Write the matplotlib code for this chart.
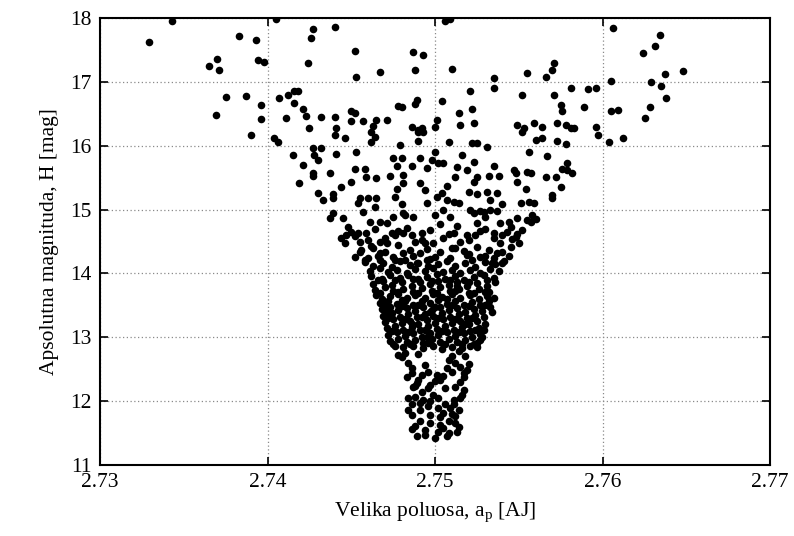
import matplotlib
matplotlib.use('Agg')
import matplotlib.pyplot as plt
import numpy as np

# ===========================
# Data: (a_p [AJ], H [mag])
# ===========================
sparse_top = [
    (2.7329, 17.63), (2.7343, 17.96), (2.7405, 17.98), (2.7427, 17.83), (2.7426, 17.69),
    (2.7440, 17.86), (2.7383, 17.71), (2.7393, 17.66), (2.7365, 17.24), (2.7370, 17.35),
    (2.7371, 17.18), (2.7394, 17.34), (2.7398, 17.31), (2.7424, 17.29), (2.7452, 17.49),
    (2.7453, 17.08), (2.7467, 17.15), (2.7487, 17.47), (2.7493, 17.42), (2.7488, 17.19),
    (2.7506, 17.96), (2.7509, 17.98), (2.7510, 17.20), (2.7375, 16.76), (2.7369, 16.48),
    (2.7387, 16.78), (2.7396, 16.63), (2.7396, 16.42), (2.7390, 16.17), (2.7407, 16.75),
    (2.7412, 16.79), (2.7416, 16.86), (2.7418, 16.86), (2.7411, 16.44), (2.7416, 16.67),
    (2.7421, 16.58), (2.7423, 16.47), (2.7425, 16.27), (2.7432, 16.45), (2.7440, 16.45),
    (2.7441, 16.27), (2.7450, 16.55), (2.7452, 16.51), (2.7450, 16.38), (2.7457, 16.38),
    (2.7465, 16.40), (2.7463, 16.31), (2.7471, 16.40), (2.7478, 16.62), (2.7480, 16.60),
    (2.7486, 16.30), (2.7490, 16.24), (2.7492, 16.27), (2.7489, 16.71), (2.7488, 16.66),
    (2.7501, 16.40), (2.7500, 16.29), (2.7504, 16.70), (2.7514, 16.51), (2.7515, 16.32),
    (2.7521, 16.86), (2.7522, 16.58), (2.7523, 16.35), (2.7535, 17.06), (2.7535, 16.90),
    (2.7549, 16.33), (2.7553, 16.28), (2.7559, 16.35), (2.7564, 16.29), (2.7555, 17.14),
    (2.7566, 17.08), (2.7552, 16.79), (2.7570, 17.19), (2.7571, 17.30), (2.7571, 16.79),
    (2.7575, 16.64), (2.7576, 16.54), (2.7573, 16.36), (2.7581, 16.91), (2.7578, 16.33),
    (2.7581, 16.28), (2.7583, 16.27), (2.7589, 16.60), (2.7591, 16.89), (2.7596, 16.91),
    (2.7596, 16.29), (2.7606, 17.84), (2.7605, 17.02), (2.7605, 16.54), (2.7609, 16.56),
    (2.7624, 17.45), (2.7631, 17.56), (2.7634, 17.73), (2.7629, 17.00), (2.7635, 16.94),
    (2.7637, 17.13), (2.7638, 16.75), (2.7628, 16.60), (2.7625, 16.43), (2.7648, 17.17),
]

band_16_15 = [
    (2.7404, 16.12), (2.7406, 16.06), (2.7415, 15.85), (2.7427, 15.96), (2.7432, 15.96),
    (2.7428, 15.85), (2.7430, 15.78), (2.7421, 15.70), (2.7427, 15.57), (2.7427, 15.53),
    (2.7437, 15.57), (2.7419, 15.42), (2.7430, 15.26), (2.7433, 15.15), (2.7439, 15.24),
    (2.7439, 15.18), (2.7444, 15.35), (2.7440, 16.17), (2.7446, 16.12), (2.7441, 15.87),
    (2.7453, 15.90), (2.7452, 15.64), (2.7458, 15.64), (2.7450, 15.43), (2.7459, 15.51),
    (2.7465, 15.49), (2.7455, 15.18), (2.7460, 15.18), (2.7454, 15.10), (2.7465, 15.18),
    (2.7464, 15.04), (2.7462, 16.21), (2.7464, 16.14), (2.7462, 16.06), (2.7479, 16.01),
    (2.7475, 15.81), (2.7480, 15.81), (2.7477, 15.68), (2.7486, 15.68), (2.7473, 15.53),
    (2.7481, 15.54), (2.7481, 15.42), (2.7477, 15.32), (2.7476, 15.20), (2.7480, 15.09),
    (2.7490, 16.21), (2.7493, 16.21), (2.7490, 16.07), (2.7491, 15.81), (2.7495, 15.65),
    (2.7491, 15.42), (2.7494, 15.31), (2.7495, 15.10), (2.7498, 15.78), (2.7502, 15.73),
    (2.7500, 15.90), (2.7504, 15.26), (2.7507, 15.15), (2.7505, 15.00),
    (2.7508, 16.06), (2.7522, 16.04), (2.7525, 16.04), (2.7531, 15.98), (2.7556, 15.90),
    (2.7567, 15.84), (2.7560, 16.09), (2.7564, 16.12), (2.7573, 16.07), (2.7578, 16.03),
    (2.7597, 16.17), (2.7604, 16.06), (2.7612, 16.12), (2.7552, 16.21), (2.7516, 15.86),
    (2.7505, 15.73), (2.7513, 15.67), (2.7519, 15.62), (2.7523, 15.75), (2.7512, 15.51),
    (2.7523, 15.43), (2.7525, 15.51), (2.7532, 15.53), (2.7535, 15.68), (2.7538, 15.53),
    (2.7507, 15.37), (2.7520, 15.28), (2.7525, 15.25), (2.7531, 15.28), (2.7537, 15.26),
    (2.7533, 15.15), (2.7501, 15.20), (2.7511, 15.12), (2.7514, 15.10), (2.7540, 15.09),
    (2.7547, 15.62), (2.7548, 15.57), (2.7549, 15.43), (2.7555, 15.59), (2.7557, 15.57),
    (2.7554, 15.32), (2.7551, 15.10), (2.7556, 15.12), (2.7559, 15.10), (2.7566, 15.51),
    (2.7572, 15.51), (2.7575, 15.35), (2.7570, 15.23), (2.7570, 15.18), (2.7579, 15.73),
    (2.7576, 15.64), (2.7579, 15.62), (2.7582, 15.57), (2.7521, 15.00), (2.7527, 14.98),
    (2.7533, 15.00),
]

band_15_14 = [
    (2.7439, 14.95), (2.7437, 14.87), (2.7445, 14.87), (2.7448, 14.73), (2.7450, 14.65),
    (2.7444, 14.55), (2.7446, 14.48), (2.7447, 14.60), (2.7454, 14.63), (2.7459, 14.63),
    (2.7455, 14.49), (2.7457, 14.96), (2.7461, 14.81), (2.7467, 14.81), (2.7471, 14.79),
    (2.7475, 14.88), (2.7482, 14.92), (2.7462, 14.43), (2.7467, 14.49), (2.7471, 14.48),
    (2.7476, 14.60), (2.7478, 14.66), (2.7455, 14.34), (2.7452, 14.26), (2.7458, 14.21),
    (2.7467, 14.32), (2.7467, 14.21), (2.7476, 14.21), (2.7481, 14.32), (2.7481, 14.95),
    (2.7487, 14.88), (2.7483, 14.71), (2.7481, 14.63), (2.7492, 14.63), (2.7497, 14.68),
    (2.7488, 14.49), (2.7494, 14.48), (2.7499, 14.48), (2.7485, 14.37), (2.7491, 14.32),
    (2.7482, 14.21), (2.7489, 14.16), (2.7495, 14.21), (2.7509, 14.88), (2.7511, 14.63),
    (2.7515, 14.49), (2.7519, 14.60), (2.7524, 14.60), (2.7512, 14.40), (2.7509, 14.24),
    (2.7519, 14.29), (2.7522, 14.21), (2.7527, 14.26), (2.7523, 14.95), (2.7529, 14.96),
    (2.7525, 14.79), (2.7535, 14.63), (2.7539, 14.48), (2.7537, 14.32), (2.7534, 14.16),
    (2.7539, 14.79), (2.7544, 14.81), (2.7549, 14.87), (2.7543, 14.65), (2.7548, 14.57),
    (2.7545, 14.41), (2.7550, 14.48), (2.7552, 14.68), (2.7555, 14.84), (2.7558, 14.92),
    (2.7560, 14.85), (2.7557, 14.80), (2.7546, 14.54), (2.7544, 14.27), (2.7540, 14.17),
    (2.7456, 14.36), (2.7463, 14.40), (2.7470, 14.33), (2.7478, 14.44), (2.7495, 14.38),
    (2.7503, 14.33), (2.7510, 14.40), (2.7517, 14.35), (2.7525, 14.42), (2.7532, 14.37),
    (2.7540, 14.33), (2.7466, 14.27), (2.7500, 14.26), (2.7530, 14.27), (2.7464, 14.70),
    (2.7470, 14.56), (2.7486, 14.60), (2.7505, 14.55), (2.7513, 14.75), (2.7530, 14.70),
    (2.7540, 14.60), (2.7500, 14.92), (2.7530, 14.88), (2.7537, 14.97), (2.7503, 14.78),
    (2.7460, 14.24), (2.7475, 14.25), (2.7487, 14.28), (2.7497, 14.23), (2.7520, 14.30),
    (2.7535, 14.24), (2.7452, 14.58), (2.7460, 14.52), (2.7474, 14.64), (2.7492, 14.52),
    (2.7508, 14.62), (2.7520, 14.52), (2.7527, 14.66), (2.7535, 14.55), (2.7545, 14.72),
    (2.7549, 14.62),
]

core = [
    (2.7458, 14.18), (2.7463, 14.12), (2.7469, 14.16), (2.7474, 14.10), (2.7479, 14.19),
    (2.7485, 14.13), (2.7490, 14.17), (2.7496, 14.11), (2.7502, 14.15), (2.7507, 14.19),
    (2.7512, 14.12), (2.7518, 14.16), (2.7524, 14.10), (2.7530, 14.18), (2.7536, 14.14),
    (2.7541, 14.19),
    (2.7461, 14.04), (2.7467, 14.08), (2.7472, 14.02), (2.7477, 14.06), (2.7483, 14.01),
    (2.7488, 14.07), (2.7494, 14.03), (2.7499, 14.08), (2.7505, 14.02), (2.7510, 14.06),
    (2.7515, 14.00), (2.7521, 14.05), (2.7527, 14.01), (2.7533, 14.07), (2.7538, 14.03),
    (2.7462, 13.96), (2.7468, 13.92), (2.7473, 13.98), (2.7479, 13.93), (2.7484, 13.97),
    (2.7490, 13.91), (2.7495, 13.95), (2.7501, 13.99), (2.7506, 13.92), (2.7512, 13.96),
    (2.7517, 13.90), (2.7523, 13.94), (2.7529, 13.98), (2.7535, 13.93),
    (2.7463, 13.84), (2.7469, 13.88), (2.7474, 13.82), (2.7480, 13.86), (2.7486, 13.81),
    (2.7491, 13.87), (2.7497, 13.83), (2.7502, 13.88), (2.7508, 13.82), (2.7513, 13.86),
    (2.7519, 13.80), (2.7525, 13.85), (2.7531, 13.81), (2.7536, 13.87),
    (2.7464, 13.74), (2.7470, 13.78), (2.7475, 13.72), (2.7481, 13.76), (2.7487, 13.71),
    (2.7492, 13.77), (2.7498, 13.73), (2.7503, 13.78), (2.7509, 13.72), (2.7514, 13.76),
    (2.7520, 13.70), (2.7526, 13.75), (2.7532, 13.71),
    (2.7465, 13.66), (2.7468, 13.60), (2.7473, 13.64), (2.7478, 13.68), (2.7483, 13.62),
    (2.7488, 13.66), (2.7494, 13.61), (2.7499, 13.67), (2.7504, 13.63), (2.7510, 13.68),
    (2.7515, 13.62), (2.7521, 13.66), (2.7526, 13.60), (2.7531, 13.65), (2.7535, 13.61),
    (2.7467, 13.54), (2.7472, 13.57), (2.7477, 13.52), (2.7482, 13.56), (2.7487, 13.51),
    (2.7492, 13.57), (2.7497, 13.53), (2.7502, 13.58), (2.7507, 13.52), (2.7512, 13.56),
    (2.7517, 13.50), (2.7522, 13.55), (2.7527, 13.51), (2.7532, 13.57),
    (2.7468, 13.44), (2.7473, 13.48), (2.7478, 13.42), (2.7483, 13.46), (2.7488, 13.41),
    (2.7493, 13.47), (2.7498, 13.43), (2.7503, 13.48), (2.7508, 13.42), (2.7513, 13.46),
    (2.7518, 13.40), (2.7523, 13.45), (2.7528, 13.41), (2.7533, 13.47),
    (2.7469, 13.34), (2.7474, 13.38), (2.7479, 13.32), (2.7484, 13.36), (2.7489, 13.31),
    (2.7494, 13.37), (2.7499, 13.33), (2.7504, 13.38), (2.7509, 13.32), (2.7514, 13.36),
    (2.7519, 13.30), (2.7524, 13.35), (2.7529, 13.31),
    (2.7470, 13.24), (2.7475, 13.28), (2.7480, 13.22), (2.7485, 13.26), (2.7490, 13.21),
    (2.7495, 13.27), (2.7500, 13.23), (2.7505, 13.28), (2.7510, 13.22), (2.7515, 13.26),
    (2.7520, 13.20), (2.7525, 13.25), (2.7530, 13.21),
    (2.7471, 13.14), (2.7476, 13.18), (2.7481, 13.12), (2.7486, 13.16), (2.7491, 13.11),
    (2.7496, 13.17), (2.7501, 13.13), (2.7506, 13.18), (2.7511, 13.12), (2.7516, 13.16),
    (2.7521, 13.10), (2.7526, 13.15), (2.7529, 13.11),
    (2.7472, 13.04), (2.7477, 13.08), (2.7482, 13.02), (2.7487, 13.06), (2.7492, 13.01),
    (2.7497, 13.07), (2.7502, 13.03), (2.7507, 13.08), (2.7512, 13.02), (2.7517, 13.06),
    (2.7522, 13.00), (2.7527, 13.05),
    (2.7473, 12.94), (2.7478, 12.98), (2.7483, 12.92), (2.7488, 12.96), (2.7493, 12.91),
    (2.7498, 12.97), (2.7503, 12.93), (2.7508, 12.98), (2.7513, 12.92), (2.7518, 12.96),
    (2.7523, 12.90), (2.7527, 12.95),
    (2.7476, 12.86), (2.7481, 12.84), (2.7487, 12.87), (2.7493, 12.83), (2.7499, 12.86),
    (2.7504, 12.82), (2.7510, 12.85), (2.7516, 12.83), (2.7521, 12.87), (2.7525, 12.84),
]

core_fill = [
    (2.7466, 13.90), (2.7476, 13.89), (2.7487, 13.91), (2.7498, 13.88), (2.7509, 13.90),
    (2.7520, 13.87), (2.7531, 13.90), (2.7467, 13.70), (2.7478, 13.71), (2.7490, 13.69),
    (2.7501, 13.70), (2.7512, 13.72), (2.7523, 13.69), (2.7530, 13.71), (2.7470, 13.50),
    (2.7480, 13.49), (2.7490, 13.51), (2.7500, 13.48), (2.7510, 13.50), (2.7520, 13.49),
    (2.7530, 13.51), (2.7472, 13.30), (2.7482, 13.29), (2.7492, 13.31), (2.7502, 13.30),
    (2.7512, 13.28), (2.7522, 13.30), (2.7474, 13.10), (2.7484, 13.09), (2.7494, 13.11),
    (2.7504, 13.10), (2.7514, 13.09), (2.7524, 13.11), (2.7475, 12.90), (2.7485, 12.89),
    (2.7496, 12.91), (2.7506, 12.90), (2.7516, 12.89), (2.7525, 12.91),
    (2.7471, 13.40), (2.7486, 13.20), (2.7497, 13.40), (2.7507, 13.60), (2.7518, 13.20),
    (2.7528, 13.00), (2.7495, 13.00), (2.7480, 13.59), (2.7513, 13.80), (2.7534, 13.40),
]

tail = [
    (2.7480, 12.69), (2.7484, 12.60), (2.7486, 12.44), (2.7483, 12.38), (2.7492, 12.41),
    (2.7496, 12.46), (2.7501, 12.41), (2.7503, 12.33), (2.7508, 12.64), (2.7507, 12.52),
    (2.7515, 12.53), (2.7517, 12.44), (2.7519, 12.48), (2.7515, 12.30), (2.7517, 12.38),
    (2.7490, 12.33), (2.7488, 12.24), (2.7487, 12.22), (2.7492, 12.14), (2.7496, 12.21),
    (2.7499, 12.09), (2.7502, 12.05), (2.7497, 12.26), (2.7500, 12.31), (2.7484, 12.05),
    (2.7488, 12.06), (2.7493, 12.02), (2.7497, 12.00), (2.7511, 12.02), (2.7515, 12.05),
    (2.7517, 12.17), (2.7516, 12.10), (2.7484, 11.86), (2.7491, 11.86), (2.7502, 11.89),
    (2.7505, 11.82), (2.7509, 11.89), (2.7514, 11.86), (2.7503, 11.75), (2.7508, 11.69),
    (2.7512, 11.77), (2.7514, 11.60), (2.7491, 11.69), (2.7488, 11.61), (2.7494, 11.55),
    (2.7505, 11.58), (2.7508, 11.50), (2.7489, 11.46), (2.7494, 11.47), (2.7500, 11.43),
    (2.7507, 11.45), (2.7512, 11.66), (2.7478, 12.72), (2.7510, 12.71),
    (2.7482, 12.76), (2.7490, 12.74), (2.7514, 12.78), (2.7518, 12.70), (2.7512, 12.60),
    (2.7520, 12.58), (2.7486, 12.52), (2.7494, 12.56), (2.7505, 12.40), (2.7510, 12.45),
    (2.7489, 12.28), (2.7506, 12.20), (2.7512, 12.22), (2.7486, 11.95), (2.7491, 11.97),
    (2.7496, 11.92), (2.7506, 11.95), (2.7511, 11.95), (2.7486, 11.78), (2.7497, 11.78),
    (2.7510, 11.80), (2.7497, 11.65), (2.7502, 11.52), (2.7513, 11.52), (2.7486, 11.56),
    (2.7503, 11.62),
]

points = np.array(sparse_top + band_16_15 + band_15_14 + core + core_fill + tail)
a_p = points[:, 0]
H_mag = points[:, 1]

x_ticks = [2.73, 2.74, 2.75, 2.76, 2.77]
y_ticks = [11, 12, 13, 14, 15, 16, 17, 18]

plt.rcParams['font.family'] = ['Liberation Serif', 'DejaVu Serif']
plt.rcParams['font.size'] = 15.5

fig = plt.figure(figsize=(7.94, 5.36), dpi=100)
ax = fig.add_axes([0.126, 0.1325, 0.844, 0.834])

ax.scatter(a_p, H_mag, s=30, c='black', marker='o', linewidths=0, zorder=3)

ax.set_xlim(2.73, 2.77)
ax.set_ylim(11, 18)
ax.set_xticks(x_ticks)
ax.set_xticklabels([f"{t:.2f}" for t in x_ticks])
ax.set_yticks(y_ticks)
ax.set_yticklabels([str(t) for t in y_ticks])
ax.tick_params(direction='in', top=True, right=True, length=6, width=1.2, pad=6)
ax.grid(True, linestyle=(0, (1, 2)), color='#8a8a8a', linewidth=0.9)
for sp in ax.spines.values():
    sp.set_linewidth(1.5)

ax.set_xlabel(r'Velika poluosa, a$_\mathregular{p}$ [AJ]', labelpad=6)
ax.set_ylabel('Apsolutna magnituda, H [mag]', labelpad=8)

fig.savefig('out.png', dpi=100)
